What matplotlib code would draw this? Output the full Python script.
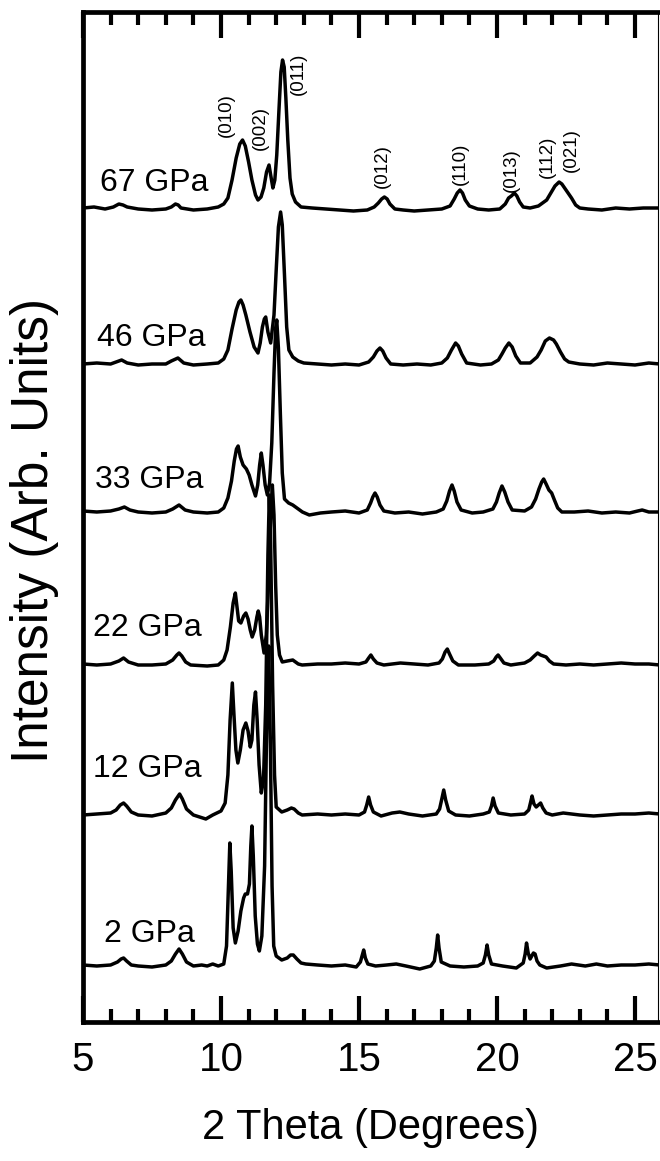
import matplotlib
matplotlib.use("Agg")
import matplotlib.pyplot as plt
from matplotlib.ticker import MultipleLocator

plt.rcParams['font.family'] = ['Liberation Sans', 'DejaVu Sans']

# pressures and diffraction patterns
# each pattern: (2 theta in degrees, intensity above its own baseline, arb.)
pressures = ["67 GPa", "46 GPa", "33 GPa", "22 GPa", "12 GPa", "2 GPa"]

p67 = [(5.0, 2), (5.4, 3), (5.8, 1), (6.1, 3), (6.3, 6), (6.45, 5), (6.6, 3), (7.0, 1),
       (7.5, 0), (8.0, 1), (8.2, 3), (8.35, 6), (8.45, 5), (8.55, 2), (9.0, 0), (9.5, 1),
       (9.9, 3), (10.1, 6), (10.25, 12), (10.4, 30), (10.55, 52), (10.68, 66), (10.78, 70),
       (10.88, 64), (11.0, 48), (11.12, 30), (11.25, 15), (11.34, 10), (11.45, 13),
       (11.55, 22), (11.65, 38), (11.74, 45), (11.8, 35), (11.88, 22), (11.95, 30),
       (12.02, 55), (12.1, 100), (12.17, 138), (12.23, 150), (12.29, 143), (12.35, 112),
       (12.42, 70), (12.5, 32), (12.58, 16), (12.7, 8), (12.9, 3), (13.3, 2), (13.8, 1),
       (14.3, 0), (14.8, -1), (15.3, 0), (15.55, 3), (15.7, 7), (15.82, 11), (15.92, 13),
       (16.02, 11), (16.12, 6), (16.3, 1), (16.6, 0), (17.0, -1), (17.5, 0), (18.0, 1),
       (18.3, 4), (18.45, 11), (18.56, 17), (18.66, 20), (18.75, 17), (18.85, 10),
       (19.0, 4), (19.3, 1), (19.7, 0), (20.1, 1), (20.3, 6), (20.42, 12), (20.52, 14),
       (20.63, 17), (20.72, 14), (20.82, 8), (20.95, 3), (21.2, 2), (21.5, 4), (21.8, 10),
       (21.95, 17), (22.1, 24), (22.25, 28), (22.35, 26), (22.5, 20), (22.7, 12),
       (22.85, 5), (23.0, 2), (23.3, 1), (23.8, 0), (24.3, 2), (24.8, 1), (25.3, 2),
       (25.9, 2)]

p46 = [(5.0, 1), (5.5, 2), (6.0, 1), (6.2, 3), (6.4, 5), (6.6, 2), (7.0, 0), (7.5, 1),
       (8.0, 1), (8.2, 4), (8.44, 7), (8.65, 2), (9.0, 0), (9.5, 1), (9.9, 2), (10.1, 6),
       (10.25, 15), (10.4, 36), (10.55, 55), (10.65, 63), (10.72, 65), (10.8, 60),
       (10.9, 50), (11.05, 33), (11.2, 18), (11.34, 12), (11.42, 22), (11.5, 38), (11.57, 46),
       (11.62, 48), (11.7, 33), (11.8, 22), (11.92, 50), (12.0, 95), (12.08, 138),
       (12.16, 153), (12.22, 140), (12.3, 90), (12.38, 38), (12.46, 15), (12.6, 8),
       (12.8, 4), (13.0, 2), (13.5, 1), (14.0, 0), (14.5, 1), (15.0, 0), (15.35, 3),
       (15.52, 8), (15.65, 14), (15.76, 17), (15.86, 14), (15.98, 7), (16.15, 1), (16.6, 0),
       (17.1, 1), (17.6, 0), (18.0, 2), (18.2, 7), (18.35, 15), (18.5, 22), (18.6, 19),
       (18.72, 11), (18.9, 2), (19.4, 0), (19.8, 1), (20.05, 5), (20.18, 11), (20.3, 17),
       (20.43, 22), (20.55, 18), (20.68, 9), (20.85, 2), (21.2, 2), (21.45, 8), (21.6, 15),
       (21.75, 24), (21.9, 27), (22.05, 25), (22.15, 21), (22.3, 13), (22.45, 6), (22.6, 3),
       (23.0, 1), (23.5, 0), (24.0, 2), (24.5, 1), (25.0, 0), (25.5, 2), (25.9, 1)]

p33 = [(5.0, 2), (5.5, 1), (6.0, 2), (6.3, 4), (6.5, 6), (6.7, 3), (7.0, 1), (7.5, 0),
       (8.0, 1), (8.25, 4), (8.48, 8), (8.7, 3), (9.0, 1), (9.5, 0), (9.9, 1), (10.1, 5),
       (10.25, 15), (10.38, 32), (10.48, 52), (10.56, 64), (10.62, 67), (10.7, 56),
       (10.8, 48), (10.92, 44), (11.02, 38), (11.12, 28), (11.25, 17), (11.33, 28),
       (11.4, 48), (11.46, 60), (11.52, 48), (11.6, 28), (11.68, 18), (11.76, 30),
       (11.84, 70), (11.92, 140), (11.98, 185), (12.02, 193), (12.08, 165), (12.15, 100),
       (12.22, 40), (12.3, 14), (12.45, 10), (12.6, 8), (12.75, 5), (12.95, 1), (13.2, -2),
       (13.6, 0), (14.0, 1), (14.5, 2), (15.0, 0), (15.3, 3), (15.42, 10), (15.5, 16),
       (15.58, 20), (15.66, 16), (15.76, 8), (15.9, 2), (16.3, 0), (16.8, 1), (17.3, -1),
       (17.8, 1), (18.05, 4), (18.18, 12), (18.28, 22), (18.37, 28), (18.45, 22),
       (18.55, 11), (18.7, 3), (19.1, 0), (19.5, 1), (19.85, 4), (19.98, 11), (20.08, 20),
       (20.18, 27), (20.28, 21), (20.4, 11), (20.55, 3), (21.0, 2), (21.25, 6), (21.4, 14),
       (21.52, 24), (21.62, 31), (21.69, 34), (21.78, 29), (21.88, 23), (21.98, 20),
       (22.08, 13), (22.2, 5), (22.35, 1), (22.8, 1), (23.3, 2), (23.8, 0), (24.3, 1),
       (24.8, 0), (25.1, 2), (25.26, 3), (25.5, 1), (25.9, 1)]

p22 = [(5.0, 1), (5.5, 0), (6.0, 1), (6.3, 4), (6.47, 7), (6.65, 3), (7.0, 0), (7.5, 0),
       (8.0, 1), (8.25, 5), (8.4, 10), (8.48, 12), (8.58, 9), (8.72, 3), (8.9, 0), (9.5, -1),
       (9.9, 0), (10.1, 5), (10.22, 15), (10.34, 38), (10.44, 62), (10.52, 72), (10.58, 58),
       (10.64, 44), (10.72, 42), (10.82, 49), (10.9, 52), (10.98, 46), (11.06, 35),
       (11.13, 28), (11.22, 35), (11.3, 48), (11.35, 54), (11.4, 48), (11.46, 30),
       (11.56, 12), (11.64, 30), (11.72, 80), (11.8, 150), (11.86, 180), (11.92, 150),
       (11.98, 80), (12.04, 30), (12.12, 10), (12.22, 3), (12.4, 4), (12.6, 5), (12.8, 1),
       (12.94, 0), (13.5, 1), (14.0, 1), (14.5, 2), (15.0, 1), (15.25, 3), (15.35, 7),
       (15.43, 10), (15.52, 6), (15.65, 2), (15.9, 0), (16.5, 2), (17.0, 1), (17.5, 0),
       (17.9, 2), (18.02, 6), (18.12, 13), (18.2, 16), (18.28, 11), (18.4, 4), (18.6, 0),
       (19.2, 0), (19.7, 1), (19.88, 4), (19.97, 8), (20.04, 10), (20.12, 7), (20.25, 2),
       (20.5, 0), (21.0, 2), (21.2, 5), (21.35, 9), (21.47, 12), (21.58, 10), (21.68, 9),
       (21.78, 8), (21.9, 4), (22.05, 1), (22.5, 0), (23.0, 1), (23.5, 0), (24.0, 1),
       (24.5, 2), (25.0, 1), (25.5, 1), (25.9, 0)]

p12 = [(5.0, 0), (5.5, 1), (6.0, 2), (6.2, 5), (6.35, 10), (6.47, 12), (6.58, 9),
       (6.75, 3), (7.0, 0), (7.5, -1), (8.0, 2), (8.2, 7), (8.35, 15), (8.5, 21), (8.6, 16),
       (8.75, 6), (9.0, 0), (9.45, -4), (9.7, 0), (10.0, 4), (10.15, 12), (10.25, 40),
       (10.33, 95), (10.41, 132), (10.47, 100), (10.54, 65), (10.61, 52), (10.7, 65),
       (10.8, 85), (10.9, 92), (10.98, 84), (11.06, 68), (11.12, 75), (11.19, 110),
       (11.25, 123), (11.31, 95), (11.38, 50), (11.46, 22), (11.54, 35), (11.62, 110),
       (11.7, 260), (11.75, 320), (11.8, 270), (11.87, 130), (11.94, 40), (12.0, 8),
       (12.2, 3), (12.4, 5), (12.55, 7), (12.65, 6), (12.8, 2), (12.94, 0), (13.5, 1),
       (14.0, 0), (14.5, 1), (15.0, 0), (15.2, 3), (15.28, 10), (15.35, 18), (15.42, 10),
       (15.52, 3), (15.8, -1), (16.2, 2), (16.48, 3), (16.8, 1), (17.3, -1), (17.8, 1),
       (17.92, 6), (18.0, 16), (18.07, 25), (18.14, 15), (18.25, 4), (18.5, 0), (19.0, -1),
       (19.5, 1), (19.72, 3), (19.8, 9), (19.86, 17), (19.93, 9), (20.05, 2), (20.5, 0),
       (21.0, 1), (21.15, 5), (21.22, 13), (21.27, 19), (21.34, 11), (21.42, 8), (21.5, 10),
       (21.58, 12), (21.66, 7), (21.78, 2), (22.0, 0), (22.4, 2), (23.0, 0), (23.5, -1),
       (24.0, 0), (24.5, 1), (25.0, 1), (25.5, 2), (25.9, 1)]

p2 = [(5.0, 1), (5.5, 0), (6.0, 1), (6.25, 4), (6.38, 7), (6.47, 8), (6.58, 5), (6.75, 1),
      (7.0, 0), (7.5, -1), (8.0, 1), (8.2, 5), (8.35, 12), (8.48, 17), (8.6, 12), (8.75, 4),
      (9.0, 0), (9.3, 1), (9.5, 0), (9.7, 2), (9.9, 0), (10.1, 2), (10.2, 20), (10.27, 80),
      (10.32, 123), (10.37, 95), (10.44, 38), (10.52, 23), (10.62, 35), (10.72, 55),
      (10.82, 68), (10.88, 72), (10.96, 72), (11.03, 82), (11.08, 120), (11.12, 140),
      (11.17, 110), (11.24, 50), (11.32, 22), (11.39, 15), (11.48, 30), (11.58, 100),
      (11.66, 250), (11.73, 320), (11.79, 220), (11.85, 80), (11.91, 20), (12.0, 10),
      (12.2, 6), (12.4, 8), (12.52, 11), (12.62, 11), (12.75, 7), (12.9, 3), (13.07, 2),
      (13.5, 1), (14.0, 0), (14.5, 1), (14.9, -1), (15.05, 4), (15.12, 11), (15.17, 16),
      (15.23, 8), (15.32, 2), (15.6, 0), (16.0, 1), (16.35, 2), (16.7, 0), (17.2, -3),
      (17.6, 0), (17.73, 5), (17.8, 18), (17.85, 31), (17.9, 18), (17.98, 4), (18.3, 0),
      (18.8, -1), (19.3, 0), (19.5, 3), (19.58, 11), (19.64, 21), (19.7, 11), (19.8, 2),
      (20.2, 0), (20.7, -2), (20.95, 3), (21.02, 12), (21.07, 23), (21.13, 13), (21.2, 7),
      (21.26, 10), (21.32, 13), (21.38, 12), (21.45, 5), (21.55, 1), (21.8, -2), (22.3, 0),
      (22.7, 2), (23.2, 0), (23.6, 2), (24.0, 0), (24.5, 1), (25.0, 1), (25.5, 2), (25.9, 1)]

patterns = [p67, p46, p33, p22, p12, p2]

# Miller indices marked on the 67 GPa pattern
hkl = ["(010)", "(002)", "(011)", "(012)", "(110)", "(013)", "(112)", "(021)"]

# layout (not data): vertical offsets of each pattern and label spots
offsets = [812, 657, 509, 357, 207, 56]
press_xy = [(5.62, 839), (5.49, 684), (5.43, 542), (5.36, 394), (5.36, 253), (5.76, 88)]
hkl_xy = [(10.2, 885), (11.44, 872), (12.8, 927), (15.85, 834),
          (18.66, 837), (20.52, 830), (21.83, 844), (22.68, 850)]

fig = plt.figure(figsize=(6.6, 11.61), dpi=100)
ax = fig.add_axes([83/660, 139/1161, 575/660, 1010/1161])

for pat, off in zip(patterns, offsets):
    tt = [p[0] for p in pat]
    ii = [p[1] + off for p in pat]
    ax.plot(tt, ii, color='black', lw=2.5, solid_joinstyle='round')

for lab, (x, y) in zip(pressures, press_xy):
    ax.text(x, y, lab, fontsize=23, ha='left', va='center')

for lab, (x, y) in zip(hkl, hkl_xy):
    ax.text(x, y, lab, fontsize=13.5, rotation=90, ha='center', va='bottom')

ax.set_xlim(5, 5 + 575/27.6)
ax.set_ylim(0, 1010)
ax.set_yticks([])
ax.xaxis.set_major_locator(MultipleLocator(5))
ax.xaxis.set_minor_locator(MultipleLocator(1))
ax.tick_params(axis='x', which='both', direction='in', top=True, bottom=True)
ax.tick_params(axis='x', which='major', length=19, width=3.0, labelsize=29, pad=14)
ax.tick_params(axis='x', which='minor', length=9.5, width=3.0)

for s in ['left', 'top', 'bottom']:
    ax.spines[s].set_linewidth(3.4)
ax.spines['right'].set_linewidth(0.8)

ax.set_xlabel("2 Theta (Degrees)", fontsize=30)
ax.xaxis.set_label_coords(0.5, -0.105)
ax.xaxis.label.set_va('center')
ax.set_ylabel("Intensity (Arb. Units)", fontsize=37)
ax.yaxis.set_label_coords(-0.0835, 0.487)
ax.yaxis.label.set_va('center')

fig.savefig("out.png", dpi=100)
